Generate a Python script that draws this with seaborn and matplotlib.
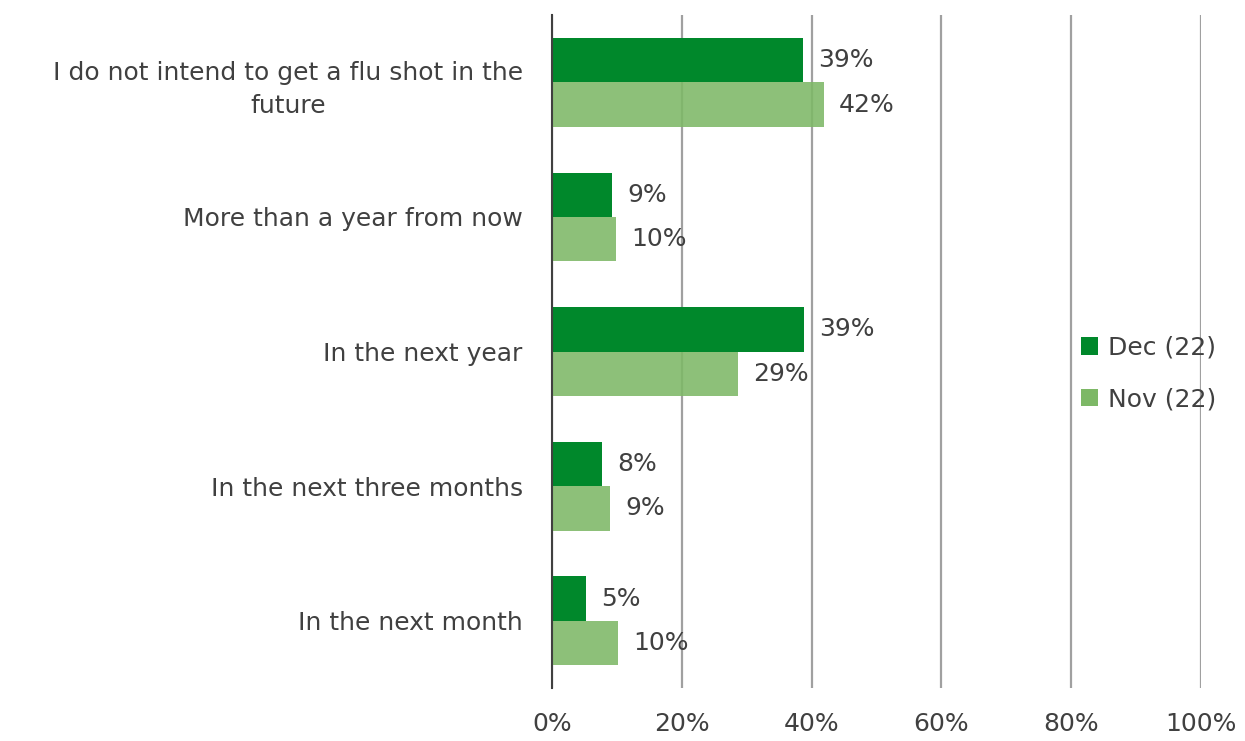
import matplotlib
matplotlib.use("Agg")
import matplotlib.pyplot as plt
import seaborn as sns
import pandas as pd
from matplotlib.ticker import PercentFormatter

# data
categories = [
    "I do not intend to get a flu shot in the\nfuture",
    "More than a year from now",
    "In the next year",
    "In the next three months",
    "In the next month",
]
dec_values = [38.7, 9.2, 38.8, 7.7, 5.2]
nov_values = [41.9, 9.9, 28.7, 8.9, 10.1]
dec_labels = ["39%", "9%", "39%", "8%", "5%"]
nov_labels = ["42%", "10%", "29%", "9%", "10%"]
series = ["Dec (22)", "Nov (22)"]

df = pd.DataFrame({
    "category": categories * 2,
    "value": dec_values + nov_values,
    "series": [series[0]] * len(categories) + [series[1]] * len(categories),
})

text_col = "#404040"
fs = 18
sns.set_style("white")
plt.rcParams["font.family"] = ["DejaVu Sans"]

fig = plt.figure(figsize=(12.45, 7.41), dpi=100)
ax = fig.add_axes([0.4434, 0.0715, 0.5213, 0.9082])

sns.barplot(data=df, y="category", x="value", hue="series", order=categories,
            hue_order=series, palette=["#00882B", "#7DB866"], width=0.66,
            orient="h", ax=ax, saturation=1, linewidth=0)

for p in ax.containers[1]:
    p.set_alpha(0.88)

ax.bar_label(ax.containers[0], labels=dec_labels, padding=11, fontsize=fs, color=text_col)
ax.bar_label(ax.containers[1], labels=nov_labels, padding=11, fontsize=fs, color=text_col)

ax.set_xlim(0, 100)
ax.set_ylim(4.5, -0.5)
ax.set_xticks([0, 20, 40, 60, 80, 100])
ax.xaxis.set_major_formatter(PercentFormatter(decimals=0))
ax.grid(axis="x", color="#a0a0a0", linewidth=1.6)
ax.set_axisbelow(True)
for s in ["top", "right", "bottom"]:
    ax.spines[s].set_visible(False)
ax.spines["left"].set_color("#404040")
ax.spines["left"].set_linewidth(1.5)
ax.tick_params(axis="x", length=0, pad=17, labelsize=fs, labelcolor=text_col)
ax.tick_params(axis="y", length=0, pad=21, labelsize=fs, labelcolor=text_col)
for t in ax.get_yticklabels():
    t.set_multialignment("center")
    t.set_linespacing(1.5)
ax.set_xlabel("")
ax.set_ylabel("")

ax.legend(loc="center left", bbox_to_anchor=(0.85, 0.496), bbox_transform=fig.transFigure,
          frameon=False, fontsize=fs, handlelength=0.7, handleheight=0.7,
          handletextpad=0.4, labelspacing=1.1, labelcolor=text_col)

fig.savefig("out.png", dpi=100)
